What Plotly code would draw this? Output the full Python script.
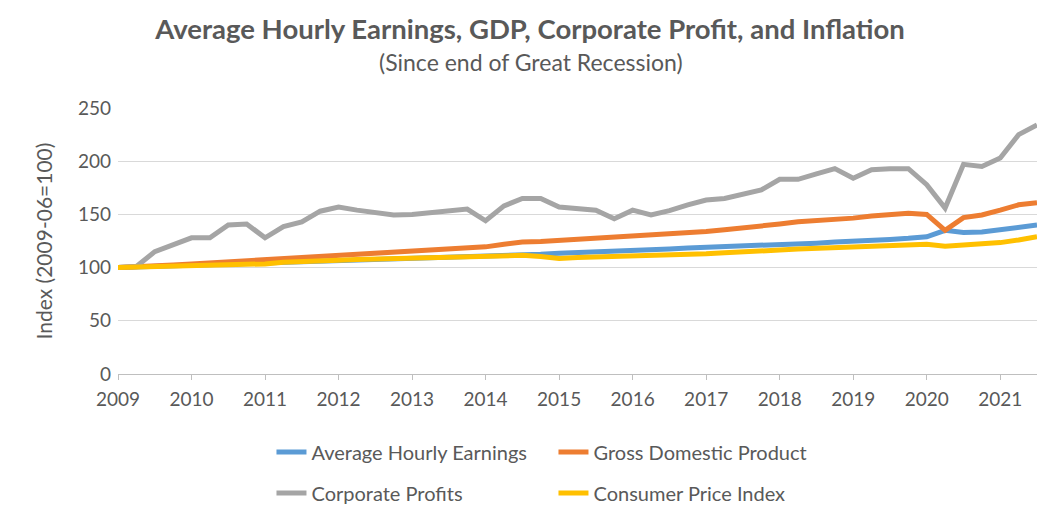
import plotly.graph_objects as go

# --- Data (quarterly index, 2009-06 = 100) ---
avg_hourly_earnings = [
    100, 100.5, 101, 101.5, 102, 102.5, 103, 103.5, 104, 104.5,
    105, 105.5, 106, 106.5, 107, 107.5, 108, 108.5, 109.5, 110,
    110.5, 111.5, 112, 112.5, 113.5, 114, 114.5, 115.5, 116, 117,
    117.5, 118.5, 119, 119.5, 120.5, 121, 121.5, 122.5, 123, 124,
    124.5, 125.5, 126.5, 127.5, 129, 135, 133, 133.5, 135.5, 137.5,
    140,
]
gdp = [
    100, 100.5, 101.5, 102.5, 103.5, 104.5, 105.5, 106.5, 107, 108.5,
    109, 110.5, 112, 112.5, 113.5, 114, 115.5, 116.5, 117.5, 119,
    119.5, 122, 124, 124.5, 125.5, 127, 128, 128.5, 129, 130.5,
    131.5, 133, 134, 135.5, 137, 139, 141, 143, 144, 145,
    146.5, 148.5, 150, 151, 150, 135, 147, 149.5, 154, 159,
    161,
]
corporate_profits = [
    100, 101, 115, 121, 128, 128, 140, 141, 128, 138.5,
    143, 153, 157, 154, 152, 149.5, 150, 151.5, 153.5, 155,
    144, 158, 165, 165, 157, 155.5, 154, 146, 154, 149.5,
    153.5, 159, 163.5, 165, 169, 173, 183, 183, 188, 193,
    184, 192, 193, 193, 178, 156, 197, 195, 203, 225,
    234,
]
cpi = [
    100, 100.5, 101, 101.5, 101.5, 102, 102, 102.5, 103.5, 105,
    106, 106.5, 107, 107.5, 108, 108.5, 108.5, 109, 110, 110,
    110.5, 111, 111.5, 110.5, 108.5, 109.5, 110, 110, 110, 111,
    111.5, 112, 113, 114, 114.5, 115.5, 116.5, 117.5, 118, 118.5,
    119, 120, 120.5, 121.5, 122, 120, 121, 122, 123.5, 126,
    129,
]
tick_years = ["2009", "2010", "2011", "2012", "2013", "2014", "2015",
              "2016", "2017", "2018", "2019", "2020", "2021"]

quarters = list(range(len(gdp)))
font_family = "Lato, Open Sans, sans-serif"
text_color = "#595959"

series = [
    ("Average Hourly Earnings", avg_hourly_earnings, "#5B9BD5", "legend"),
    ("Gross Domestic Product", gdp, "#ED7D31", "legend"),
    ("Corporate Profits", corporate_profits, "#A5A5A5", "legend2"),
    ("Consumer Price Index", cpi, "#FFC000", "legend2"),
]

fig = go.Figure()
for name, values, color, legend in series:
    fig.add_trace(
        go.Scatter(
            x=quarters,
            y=values,
            mode="lines",
            name=name,
            legend=legend,
            line=dict(color=color, width=5),
        )
    )

legend_style = dict(
    orientation="h",
    xanchor="left",
    yanchor="middle",
    x=0.167,
    entrywidth=237,
    entrywidthmode="pixels",
    font=dict(family=font_family, size=20, color=text_color),
    bgcolor="rgba(0,0,0,0)",
    itemclick=False,
)

# page body has an 8px margin, so the figure is a bit smaller than the window
fig.update_layout(
    width=1044,
    height=509,
    margin=dict(l=110, r=15, t=100, b=143, autoexpand=False),
    paper_bgcolor="white",
    plot_bgcolor="white",
    font=dict(family=font_family, color=text_color),
    title=dict(
        text="<b>Average Hourly Earnings, GDP, Corporate Profit, and Inflation</b>",
        x=0.5,
        xanchor="center",
        y=1 - 21 / 509,
        yanchor="middle",
        font=dict(family=font_family, size=27.5, color=text_color),
    ),
    annotations=[
        dict(
            text="(Since end of Great Recession)",
            xref="paper",
            yref="paper",
            x=0.449,
            y=1 + 46 / 266,
            xanchor="center",
            yanchor="middle",
            showarrow=False,
            font=dict(family=font_family, size=23, color=text_color),
        )
    ],
    legend=dict(legend_style, y=-0.293),
    legend2=dict(legend_style, y=-0.447),
    xaxis=dict(
        range=[0, len(gdp) - 1],
        tickmode="array",
        tickvals=quarters[::4],
        ticktext=tick_years,
        showgrid=False,
        zeroline=False,
        showline=True,
        linecolor="#BFBFBF",
        linewidth=1,
        ticks="outside",
        ticklen=5,
        tickcolor="#BFBFBF",
        ticklabelstandoff=3,
        tickfont=dict(family=font_family, size=19, color=text_color),
    ),
    yaxis=dict(
        range=[0, 250],
        dtick=50,
        showgrid=True,
        gridcolor="#D9D9D9",
        gridwidth=1,
        zeroline=False,
        showline=False,
        ticklabelstandoff=6,
        tickfont=dict(family=font_family, size=19, color=text_color),
        title=dict(
            text="Index (2009-06=100)",
            standoff=19,
            font=dict(family=font_family, size=21, color=text_color),
        ),
    ),
)

fig.write_html("out.html")
